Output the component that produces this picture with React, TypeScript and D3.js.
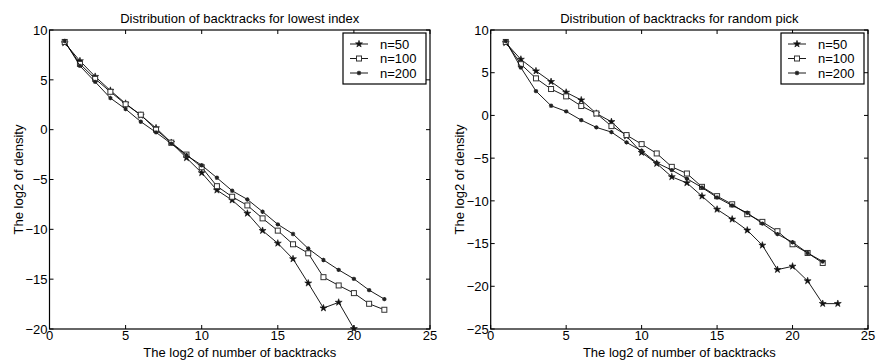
import { useEffect, useRef } from "react"
import * as d3 from "d3"

// x values are the log2 of number of backtracks (1, 2, 3, ...)
const seriesNames = ["n=50", "n=100", "n=200"]

const lowest50 = [8.7, 6.9, 5.33, 3.93, 2.63, 1.43, 0.17, -1.3, -2.83, -4.33, -6.07, -7.07, -8.4, -10.13, -11.4, -12.97, -15.4, -17.9, -17.33, -19.97]
const lowest100 = [8.8, 6.6, 5.1, 3.8, 2.55, 1.5, 0, -1.3, -2.5, -3.77, -5.67, -6.73, -7.6, -8.9, -10.13, -11.5, -12.4, -14.8, -15.63, -16.4, -17.47, -18.07]
const lowest200 = [8.9, 6.4, 4.8, 3.17, 2.07, 0.8, -0.27, -1.4, -2.57, -3.57, -4.83, -6.13, -7.0, -8.23, -9.5, -10.47, -11.93, -13.07, -14.07, -14.97, -16.1, -17.0]

const random50 = [8.5, 6.56, 5.2, 3.95, 2.7, 1.8, 0.23, -0.74, -2.42, -4.34, -5.63, -7.19, -7.9, -9.45, -11.0, -12.15, -13.44, -15.2, -18.05, -17.66, -19.37, -22.03, -22.03]
const random100 = [8.6, 6.0, 4.34, 3.09, 2.23, 1.1, 0.23, -1.25, -2.3, -3.36, -4.45, -6.02, -6.8, -8.36, -9.45, -10.4, -11.56, -12.46, -13.55, -15.08, -16.1, -17.27]
const random200 = [8.7, 5.6, 2.85, 1.13, 0.47, -0.55, -1.4, -1.95, -3.16, -4.14, -5.55, -6.4, -7.4, -8.44, -9.6, -10.55, -11.4, -12.66, -13.9, -14.84, -16.1, -17.1]

const xTicks = [0, 5, 10, 15, 20, 25]
const lowestYTicks = [10, 5, 0, -5, -10, -15, -20]
const randomYTicks = [10, 5, 0, -5, -10, -15, -20, -25]

const font = "Liberation Sans, Arial, Helvetica, sans-serif"

type Panel = {
  title: string
  left: number
  right: number
  yDomain: [number, number]
  yTicks: number[]
  series: number[][]
}

const panels: Panel[] = [
  { title: "Distribution of backtracks for lowest index", left: 49.5, right: 430, yDomain: [-20, 10], yTicks: lowestYTicks, series: [lowest50, lowest100, lowest200] },
  { title: "Distribution of backtracks for random pick", left: 490.7, right: 868, yDomain: [-25, 10], yTicks: randomYTicks, series: [random50, random100, random200] },
]

function drawMarker(g: d3.Selection<SVGGElement, unknown, null, undefined>, kind: number, x: number, y: number) {
  if (kind === 0) {
    g.append("path")
      .attr("d", d3.symbol().type(d3.symbolStar).size(15)())
      .attr("transform", `translate(${x},${y})`)
      .attr("fill", "#111")
      .attr("stroke", "#111")
      .attr("stroke-width", 0.6)
  } else if (kind === 1) {
    g.append("rect")
      .attr("x", x - 2.5)
      .attr("y", y - 2.5)
      .attr("width", 5)
      .attr("height", 5)
      .attr("fill", "white")
      .attr("stroke", "#333")
      .attr("stroke-width", 1)
  } else {
    const r = 2.2
    const p = d3.path()
    for (let a = 0; a < 4; a++) {
      const t = (a * Math.PI) / 4
      p.moveTo(x - r * Math.cos(t), y - r * Math.sin(t))
      p.lineTo(x + r * Math.cos(t), y + r * Math.sin(t))
    }
    g.append("path").attr("d", p.toString()).attr("stroke", "#222").attr("stroke-width", 1.1).attr("fill", "none")
    g.append("circle").attr("cx", x).attr("cy", y).attr("r", 1.3).attr("fill", "#222")
  }
}

export default function App() {
  const svgRef = useRef<SVGSVGElement>(null)

  useEffect(() => {
    if (!svgRef.current) return
    const svg = d3.select(svgRef.current)
    svg.selectAll("*").remove()

    const top = 30
    const bottom = 329

    panels.forEach((p) => {
      const g = svg.append("g")
      const x = d3.scaleLinear().domain([0, 25]).range([p.left, p.right])
      const y = d3.scaleLinear().domain(p.yDomain).range([bottom, top])

      // ticks (inside, on all four sides)
      xTicks.forEach((t) => {
        g.append("line").attr("x1", x(t)).attr("x2", x(t)).attr("y1", bottom).attr("y2", bottom - 4).attr("stroke", "black")
        g.append("line").attr("x1", x(t)).attr("x2", x(t)).attr("y1", top).attr("y2", top + 4).attr("stroke", "black")
        g.append("text")
          .attr("x", x(t))
          .attr("y", bottom + 11)
          .attr("text-anchor", "middle")
          .attr("font-family", font)
          .attr("font-size", 13)
          .text(String(t))
      })
      p.yTicks.forEach((t) => {
        g.append("line").attr("x1", p.left).attr("x2", p.left + 4).attr("y1", y(t)).attr("y2", y(t)).attr("stroke", "black")
        g.append("line").attr("x1", p.right).attr("x2", p.right - 4).attr("y1", y(t)).attr("y2", y(t)).attr("stroke", "black")
        g.append("text")
          .attr("x", p.left - 2)
          .attr("y", y(t))
          .attr("dy", "0.36em")
          .attr("text-anchor", "end")
          .attr("font-family", font)
          .attr("font-size", 13)
          .text(t < 0 ? `\u2212${-t}` : String(t))
      })

      g.append("rect")
        .attr("x", p.left)
        .attr("y", top)
        .attr("width", p.right - p.left)
        .attr("height", bottom - top)
        .attr("fill", "none")
        .attr("stroke", "black")
        .attr("stroke-width", 1.2)

      // series
      const line = d3
        .line<number>()
        .x((_, i) => x(i + 1))
        .y((d) => y(d))
      p.series.forEach((s, k) => {
        g.append("path").attr("d", line(s)).attr("fill", "none").attr("stroke", "black").attr("stroke-width", 0.9)
        s.forEach((v, i) => drawMarker(g, k, x(i + 1), y(v)))
      })

      // title and labels
      const cx = (p.left + p.right) / 2
      g.append("text")
        .attr("x", cx)
        .attr("y", 23)
        .attr("text-anchor", "middle")
        .attr("font-family", font)
        .attr("font-size", 13)
        .text(p.title)
      g.append("text")
        .attr("x", cx)
        .attr("y", 357)
        .attr("text-anchor", "middle")
        .attr("font-family", font)
        .attr("font-size", 13)
        .text("The log2 of number of backtracks")
      g.append("text")
        .attr("transform", `translate(${p.left - 27},${(top + bottom) / 2}) rotate(-90)`)
        .attr("text-anchor", "middle")
        .attr("font-family", font)
        .attr("font-size", 13)
        .text("The log2 of density")

      // legend
      const lw = 83
      const lx = p.right - 4 - lw
      const ly = 33
      g.append("rect")
        .attr("x", lx)
        .attr("y", ly)
        .attr("width", lw)
        .attr("height", 51)
        .attr("fill", "white")
        .attr("stroke", "black")
        .attr("stroke-width", 1.2)
      seriesNames.forEach((name, k) => {
        const yy = ly + 11 + k * 14.5
        g.append("line").attr("x1", lx + 7).attr("x2", lx + 25).attr("y1", yy).attr("y2", yy).attr("stroke", "black").attr("stroke-width", 0.9)
        drawMarker(g, k, lx + 16, yy)
        g.append("text")
          .attr("x", lx + 37)
          .attr("y", yy)
          .attr("dy", "0.36em")
          .attr("font-family", font)
          .attr("font-size", 13)
          .text(name)
      })
    })
  }, [])

  return <svg ref={svgRef} width={876} height={360} style={{ position: "absolute", left: 0, top: 0, background: "white" }} />
}
